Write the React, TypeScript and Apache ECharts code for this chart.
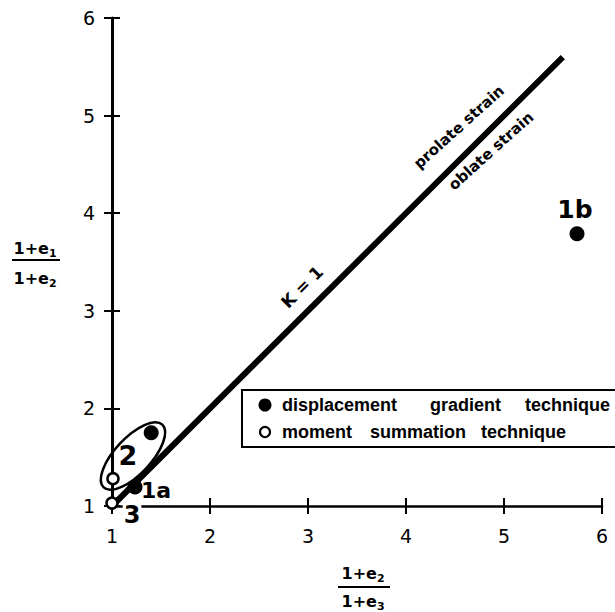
import React, { useEffect, useRef } from 'react';
import * as echarts from 'echarts';

// ---- data ----
const axisMin = 1;
const axisMax = 6;
const tickStep = 1;
// K = 1 reference line (plane strain boundary)
const kLineX = [1, 5.6];
const kLineY = [1, 5.6];
// displacement gradient technique (filled)
const dispX = [5.745, 1.4, 1.235];
const dispY = [3.79, 1.75, 1.195];
// moment summation technique (open)
const momX = [1.01, 1.0];
const momY = [1.28, 1.03];
const legendNames = ['displacement gradient technique', 'moment summation technique'];
const pointLabels = ['1b', '2', '1a', '3'];

const F = 'DejaVu Sans';
const LF = 'Liberation Sans';

function zip(xs: number[], ys: number[]) {
  return xs.map((x, i) => [x, ys[i]]);
}

function fraction(cx: number, numY: number, barY: number, denY: number, barX0: number, barX1: number, numSub: string, denSub: string) {
  const base = { fontFamily: F, fontWeight: 'bold' as const, fontSize: 16, fill: '#000', verticalAlign: 'middle' as const, align: 'left' as const };
  const sub = { fontFamily: F, fontWeight: 'bold' as const, fontSize: 11, fill: '#000', verticalAlign: 'middle' as const, align: 'left' as const };
  const x0 = cx - 21.5;
  return [
    { type: 'text', x: x0, y: numY, style: { ...base, text: '1+e' } },
    { type: 'text', x: x0 + 35.4, y: numY + 5, style: { ...sub, text: numSub } },
    { type: 'line', shape: { x1: barX0, y1: barY, x2: barX1, y2: barY }, style: { stroke: '#000', lineWidth: 2 } },
    { type: 'text', x: x0, y: denY, style: { ...base, text: '1+e' } },
    { type: 'text', x: x0 + 35.4, y: denY + 5, style: { ...sub, text: denSub } },
  ];
}

export default function App() {
  const ref = useRef<HTMLDivElement>(null);
  useEffect(() => {
    document.body.style.margin = '0';
    const chart = echarts.init(ref.current!, null, { renderer: 'svg' });
    const axisCommon = {
      type: 'value' as const,
      min: axisMin,
      max: axisMax,
      interval: tickStep,
      splitLine: { show: false },
    };
    const labelStyle = { fontFamily: F, fontSize: 19, color: '#000' };
    const bold = { fontFamily: F, fontWeight: 'bold' as const, fill: '#000', align: 'center' as const, verticalAlign: 'middle' as const };
    const words1 = [
      { t: 'displacement', x: 282 },
      { t: 'gradient', x: 430 },
      { t: 'technique', x: 525 },
    ];
    const words2 = [
      { t: 'moment', x: 282 },
      { t: 'summation', x: 370 },
      { t: 'technique', x: 481 },
    ];
    const legendWord = (w: { t: string; x: number }, y: number) => ({
      type: 'text',
      x: w.x,
      y,
      style: { text: w.t, fontFamily: LF, fontWeight: 'bold', fontSize: 18, fill: '#000', align: 'left', verticalAlign: 'middle' },
    });
    chart.setOption({
      animation: false,
      backgroundColor: '#fff',
      grid: { left: 112, top: 18, width: 490, height: 488, containLabel: false },
      xAxis: [
        {
          ...axisCommon,
          position: 'bottom',
          axisLine: { show: true, lineStyle: { color: '#000', width: 2.5 } },
          axisTick: { show: true, length: 8, lineStyle: { color: '#000', width: 2 } },
          axisLabel: { ...labelStyle, margin: 20 },
        },
        {
          ...axisCommon,
          position: 'bottom',
          axisLine: { show: false },
          axisTick: { show: true, inside: true, length: 8, lineStyle: { color: '#000', width: 2 } },
          axisLabel: { show: false },
        },
      ],
      yAxis: [
        {
          ...axisCommon,
          position: 'left',
          axisLine: { show: true, lineStyle: { color: '#000', width: 3 } },
          axisTick: { show: true, length: 8, lineStyle: { color: '#000', width: 2 } },
          axisLabel: { ...labelStyle, margin: 17 },
        },
        {
          ...axisCommon,
          position: 'left',
          axisLine: { show: false },
          axisTick: { show: true, inside: true, length: 8, lineStyle: { color: '#000', width: 2 } },
          axisLabel: { show: false },
        },
      ],
      series: [
        {
          name: 'K = 1',
          type: 'line',
          data: zip(kLineX, kLineY),
          showSymbol: false,
          symbol: 'none',
          lineStyle: { color: '#000', width: 6, opacity: 1 },
          z: 2,
        },
        {
          name: legendNames[0],
          type: 'scatter',
          data: zip(dispX, dispY),
          symbol: 'circle',
          symbolSize: 15,
          itemStyle: { color: '#000', opacity: 1 },
          clip: false,
          z: 3,
        },
        {
          name: legendNames[1],
          type: 'scatter',
          data: zip(momX, momY),
          symbol: 'circle',
          symbolSize: 11,
          itemStyle: { color: '#fff', borderColor: '#000', borderWidth: 2.5, opacity: 1 },
          clip: false,
          z: 4,
        },
      ],
      graphic: [
        // ellipse around group 2
        {
          type: 'ellipse',
          x: 133,
          y: 456,
          rotation: (47 * Math.PI) / 180,
          shape: { cx: 0, cy: 0, rx: 43, ry: 18 },
          style: { fill: 'none', stroke: '#000', lineWidth: 2.5 },
          z: 10,
        },
        // point labels
        { type: 'text', x: 575, y: 209, style: { ...bold, text: pointLabels[0], fontSize: 25 }, z: 10 },
        { type: 'text', x: 128, y: 455, style: { ...bold, text: pointLabels[1], fontSize: 27 }, z: 10 },
        { type: 'text', x: 156, y: 490, style: { ...bold, text: pointLabels[2], fontSize: 22 }, z: 10 },
        { type: 'text', x: 132, y: 515, style: { ...bold, text: pointLabels[3], fontSize: 24, backgroundColor: '#fff', padding: [0, 1] }, z: 10 },
        // line annotations
        { type: 'text', x: 302, y: 287, rotation: Math.PI / 4, style: { ...bold, text: 'K = 1', fontSize: 17 }, z: 10 },
        { type: 'text', x: 459, y: 127, rotation: (42 * Math.PI) / 180, style: { ...bold, text: 'prolate strain', fontSize: 15 }, z: 10 },
        { type: 'text', x: 491, y: 151, rotation: (42 * Math.PI) / 180, style: { ...bold, text: 'oblate strain', fontSize: 15 }, z: 10 },
        // legend box
        {
          type: 'rect',
          shape: { x: 242, y: 390, width: 380, height: 57 },
          style: { fill: '#fff', stroke: '#000', lineWidth: 2 },
          z: 20,
        },
        { type: 'circle', shape: { cx: 265, cy: 405, r: 6.5 }, style: { fill: '#000' }, z: 21 },
        { type: 'circle', shape: { cx: 265, cy: 432, r: 5 }, style: { fill: '#fff', stroke: '#000', lineWidth: 2.2 }, z: 21 },
        ...words1.map((w) => ({ ...legendWord(w, 405), z: 21 })),
        ...words2.map((w) => ({ ...legendWord(w, 432), z: 21 })),
        // axis titles (fractions)
        ...fraction(35, 248, 260, 278, 12, 60, '1', '2').map((e) => ({ ...e, z: 10 })),
        ...fraction(363, 573, 587, 601, 338, 390, '2', '3').map((e) => ({ ...e, z: 10 })),
      ],
    });
    return () => chart.dispose();
  }, []);
  return <div ref={ref} style={{ width: 615, height: 612 }} />;
}
